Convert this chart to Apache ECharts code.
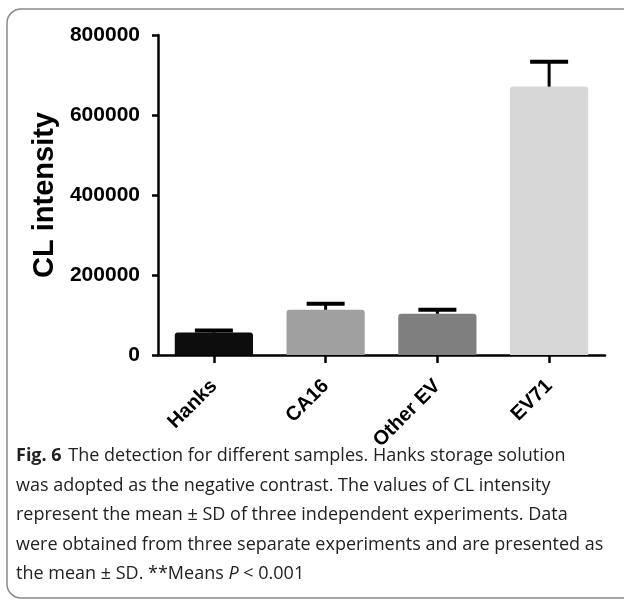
<!DOCTYPE html>
<html>
<head>
<meta charset="utf-8">
<script src="https://cdn.jsdelivr.net/npm/echarts@6/dist/echarts.min.js"></script>
<style>
html,body{margin:0;padding:0;background:#fff;}
#chart{width:624px;height:603px;}
</style>
</head>
<body>
<div id="chart"></div>
<script>
const categories = ['Hanks', 'CA16', 'Other EV', 'EV71'];
const meanValues = [56000, 113000, 103000, 671000];
const sdUpper = [61000, 128000, 113000, 733000];
const barColors = ['#0d0d0d', '#a0a0a0', '#7f7f7f', '#d7d7d7'];
const yTicks = [0, 200000, 400000, 600000, 800000];
const captionLines = [
  'The detection for different samples. Hanks storage solution',
  'was adopted as the negative contrast. The values of CL intensity',
  'represent the mean \u00b1 SD of three independent experiments. Data',
  'were obtained from three separate experiments and are presented as',
  'the mean \u00b1 SD. **Means '
];

const chart = echarts.init(document.getElementById('chart'), null, {renderer: 'canvas'});
const chartFont = '"Liberation Sans", Arial, sans-serif';
const capFont = '"Open Sans", "Noto Sans", sans-serif';
const capTop = 447;
const capStep = 29.5;

const captionGraphics = captionLines.map((line, i) => {
  if (i === 0) {
    return {
      type: 'text', left: 16, top: capTop + i * capStep,
      style: {
        text: '{b|Fig. 6}  {n|' + line + '}',
        rich: {
          b: {fontFamily: capFont, fontWeight: 'bold', fontSize: 18, fill: '#222'},
          n: {fontFamily: capFont, fontWeight: 'normal', fontSize: 18, fill: '#222'}
        }
      }
    };
  }
  if (i === 4) {
    return {
      type: 'text', left: 16, top: capTop + i * capStep,
      style: {
        text: '{n|' + line + '}{i|P}{n| < 0.001}',
        rich: {
          n: {fontFamily: capFont, fontSize: 18, fill: '#222'},
          i: {fontFamily: capFont, fontStyle: 'italic', fontSize: 18, fill: '#222'}
        }
      }
    };
  }
  return {
    type: 'text', left: 16, top: capTop + i * capStep,
    style: {text: line, fontFamily: capFont, fontSize: 18, fill: '#222'}
  };
});

const option = {
  animation: false,
  backgroundColor: '#fff',
  grid: {left: 158, right: 19, top: 35, bottom: 248, containLabel: false},
  xAxis: {
    type: 'category',
    data: categories,
    boundaryGap: true,
    axisLine: {lineStyle: {color: '#000', width: 2.5}},
    axisTick: {show: true, alignWithLabel: true, length: 8, lineStyle: {color: '#000', width: 2.5}},
    axisLabel: {rotate: 45, margin: 28, color: '#000', fontFamily: chartFont, fontWeight: 'bold', fontSize: 20}
  },
  yAxis: {
    type: 'value',
    min: 0, max: 800000, interval: 200000,
    name: 'CL intensity',
    nameLocation: 'middle',
    nameGap: 95,
    nameTextStyle: {color: '#000', fontFamily: chartFont, fontWeight: 'bold', fontSize: 29},
    axisLine: {show: true, lineStyle: {color: '#000', width: 2.5}},
    axisTick: {show: true, length: 6, lineStyle: {color: '#000', width: 2.5}},
    splitLine: {show: false},
    axisLabel: {margin: 18, color: '#000', fontFamily: chartFont, fontWeight: 'bold', fontSize: 21,
      formatter: v => yTicks.includes(v) ? String(v) : ''}
  },
  graphic: [
    {type: 'rect', shape: {x: 7, y: 9, width: 640, height: 589, r: 14},
     style: {fill: 'none', stroke: '#8a8a8a', lineWidth: 1.5}, z: -10}
  ].concat(captionGraphics),
  series: [
    {
      type: 'bar',
      data: meanValues.map((v, i) => ({value: v, itemStyle: {color: barColors[i]}})),
      barWidth: '70%',
      itemStyle: {borderRadius: [3, 3, 0, 0]},
      z: 2
    },
    {
      type: 'custom',
      z: 3,
      data: categories.map((c, i) => [i, meanValues[i], sdUpper[i]]),
      renderItem: function (params, api) {
        const base = api.coord([api.value(0), api.value(1)]);
        const top = api.coord([api.value(0), api.value(2)]);
        const half = 19;
        return {
          type: 'group',
          children: [
            {type: 'line', shape: {x1: base[0], y1: base[1], x2: top[0], y2: top[1]},
             style: {stroke: '#000', lineWidth: 3}},
            {type: 'line', shape: {x1: top[0] - half, y1: top[1], x2: top[0] + half, y2: top[1]},
             style: {stroke: '#000', lineWidth: 4}}
          ]
        };
      }
    }
  ]
};
chart.setOption(option);
</script>
</body>
</html>
